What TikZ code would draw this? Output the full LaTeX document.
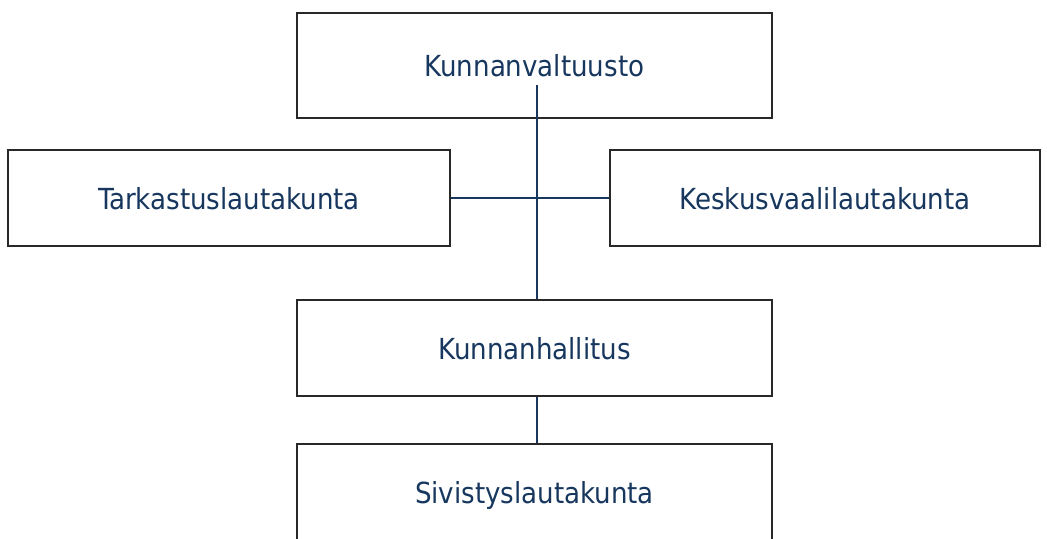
\documentclass[tikz,border=0pt]{standalone}
\usepackage{fontspec}
\setmainfont{DejaVu Sans Condensed}
\usepackage{tikz}
\usetikzlibrary{calc,positioning}
\definecolor{laivasto}{RGB}{23, 55, 94}
\definecolor{reuna}{RGB}{40, 40, 40}
\tikzstyle{laatikko}=[rectangle, draw=reuna, line width=0.8pt,
                      minimum height=1.92cm, inner sep=0pt, text depth=0pt,
                      text=laivasto, font=\fontsize{16.5}{20}\selectfont]
\tikzstyle{viiva}=[draw=laivasto, line width=0.9pt]

\begin{document}
\begin{tikzpicture}[x=0.02cm,y=-0.02cm]

    \useasboundingbox (0,0) rectangle (1047,538);

    \node (valtuusto) [laatikko, minimum width=9.5cm, minimum height=2.1cm]
        at (534.5,65.5) {Kunnanvaltuusto};
    \node (tarkastus) [laatikko, minimum width=8.84cm] at (229,198)
        {Tarkastuslautakunta};
    \node (keskus) [laatikko, minimum width=8.6cm] at (825,198)
        {Keskusvaalilautakunta};
    \node (hallitus) [laatikko, minimum width=9.5cm] at (534.5,348)
        {Kunnanhallitus};
    \node (sivistys) [laatikko, minimum width=9.5cm] at (534.5,492)
        {Sivistyslautakunta};

    \coordinate (runko) at (537,85);

    \draw [viiva] (runko) -- (runko |- hallitus.north);
    \draw [viiva] (tarkastus.east) -- (keskus.west);
    \draw [viiva] (hallitus.south -| runko) -- (sivistys.north -| runko);

\end{tikzpicture}
\end{document}
